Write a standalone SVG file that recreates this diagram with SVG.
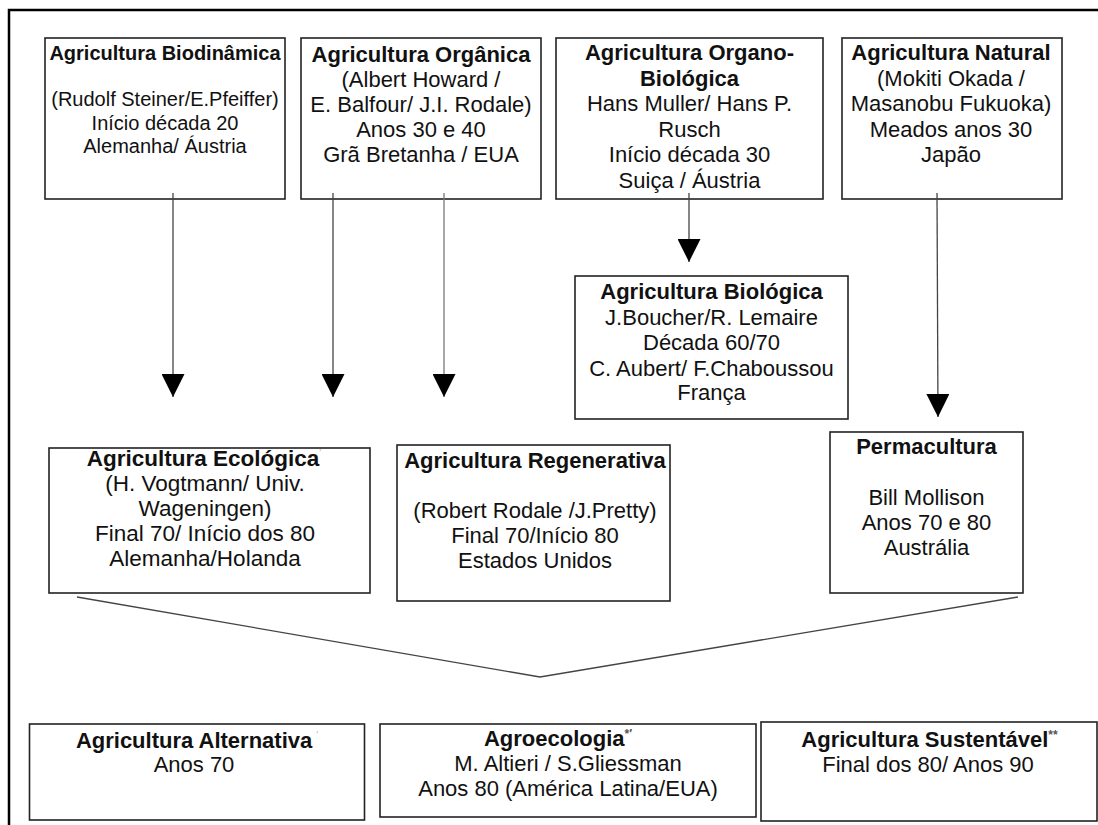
<svg xmlns="http://www.w3.org/2000/svg" width="1098" height="825" viewBox="0 0 1098 825">
<style>
text{font-family:"Liberation Sans",Arial,sans-serif;fill:#111;text-anchor:middle;font-size:22px}
.t{font-weight:bold}
.f20{font-size:20px}
.f225{font-size:22.5px}
.box{fill:#fff;stroke:#222;stroke-width:1.6}
.con{fill:none;stroke:#444;stroke-width:1.3}
.sup{font-size:12px;font-weight:bold;fill:#555}
.faint{font-size:10px;fill:#bbb}
</style>
<defs>
<marker id="ah" markerUnits="userSpaceOnUse" markerWidth="23" markerHeight="23" refX="23" refY="11.5" orient="auto" viewBox="0 0 23 23"><path d="M0,0L23,11.5L0,23z" fill="#000"/></marker>
</defs>
<rect width="1098" height="825" fill="#fff"/>
<path d="M9,825V10H1098" fill="none" stroke="#000" stroke-width="2.5"/>

<g id="n-biodinamica">
<rect class="box" x="45" y="38" width="240" height="161"/>
<text class="f20" x="165" y="60"><tspan class="t">Agricultura Biodinâmica</tspan><tspan x="165" y="106.4">(Rudolf Steiner/E.Pfeiffer)</tspan><tspan x="165" y="129.6">Início década 20</tspan><tspan x="165" y="152.8">Alemanha/ Áustria</tspan></text>
</g>
<g id="n-organica">
<rect class="box" x="301" y="38" width="240" height="161"/>
<text x="421" y="62"><tspan class="t">Agricultura Orgânica</tspan><tspan x="421" y="87">(Albert Howard /</tspan><tspan x="421" y="112">E. Balfour/ J.I. Rodale)</tspan><tspan x="421" y="137">Anos 30 e 40</tspan><tspan x="421" y="162">Grã Bretanha / EUA</tspan></text>
</g>
<g id="n-organo">
<rect class="box" x="556" y="38" width="267" height="161"/>
<text x="689.5" y="60"><tspan class="t">Agricultura Organo-</tspan><tspan class="t" x="689.5" y="85.5">Biológica</tspan><tspan x="689.5" y="111">Hans Muller/ Hans P.</tspan><tspan x="689.5" y="136.5">Rusch</tspan><tspan x="689.5" y="162">Início década 30</tspan><tspan x="689.5" y="187.5">Suiça / Áustria</tspan></text>
</g>
<g id="n-natural">
<rect class="box" x="842" y="38" width="220" height="161"/>
<text x="951" y="60"><tspan class="t">Agricultura Natural</tspan><tspan x="951" y="85.5">(Mokiti Okada /</tspan><tspan x="951" y="111">Masanobu Fukuoka)</tspan><tspan x="951" y="136.5">Meados anos 30</tspan><tspan x="951" y="162">Japão</tspan></text>
</g>
<g id="n-biologica">
<rect class="box" x="575" y="276" width="273" height="143"/>
<text x="711.5" y="299"><tspan class="t">Agricultura Biológica</tspan><tspan x="711.5" y="324.5">J.Boucher/R. Lemaire</tspan><tspan x="711.5" y="350">Década 60/70</tspan><tspan x="711.5" y="375.5">C. Aubert/ F.Chaboussou</tspan><tspan x="711.5" y="400">França</tspan></text>
</g>
<g id="n-ecologica">
<rect class="box" x="49" y="448" width="321" height="145"/>
<text class="f225" x="204" y="466"><tspan class="t">Agricultura Ecológica</tspan><tspan class="faint" dy="-9">′</tspan><tspan x="205" y="491">(H. Vogtmann/ Univ.</tspan><tspan x="205" y="516">Wageningen)</tspan><tspan x="205" y="541">Final 70/ Início dos 80</tspan><tspan x="205" y="566">Alemanha/Holanda</tspan></text>
</g>
<g id="n-regenerativa">
<rect class="box" x="397" y="445" width="273" height="156"/>
<text x="535" y="468"><tspan class="t">Agricultura Regenerativa</tspan><tspan x="535" y="518">(Robert Rodale /J.Pretty)</tspan><tspan x="535" y="543">Final 70/Início 80</tspan><tspan x="535" y="568">Estados Unidos</tspan></text>
</g>
<g id="n-permacultura">
<rect class="box" x="830" y="432" width="193" height="161"/>
<text x="926.5" y="454"><tspan class="t">Permacultura</tspan><tspan x="926.5" y="505">Bill Mollison</tspan><tspan x="926.5" y="530">Anos 70 e 80</tspan><tspan x="926.5" y="555">Austrália</tspan></text>
</g>
<g id="n-alternativa">
<rect class="box" x="29.5" y="724" width="335" height="96"/>
<text x="197" y="748"><tspan class="t">Agricultura Alternativa</tspan><tspan class="faint" dx="4" dy="-9">′</tspan><tspan x="194" y="772">Anos 70</tspan></text>
</g>
<g id="n-agroecologia">
<rect class="box" x="380" y="724" width="376" height="93"/>
<text x="558" y="746"><tspan class="t">Agroecologia</tspan><tspan class="sup" dy="-8">*′</tspan><tspan x="568" y="771">M. Altieri / S.Gliessman</tspan><tspan x="568" y="796">Anos 80 (América Latina/EUA)</tspan></text>
</g>
<g id="n-sustentavel">
<rect class="box" x="761" y="722" width="336" height="99"/>
<text x="929.5" y="747"><tspan class="t">Agricultura Sustentável</tspan><tspan class="sup" dy="-8">**</tspan><tspan x="928" y="772">Final dos 80/ Anos 90</tspan></text>
</g>

<g id="connectors">
<path class="con" d="M173,193V397" marker-end="url(#ah)"/>
<path class="con" d="M333,193V397" marker-end="url(#ah)"/>
<path class="con" d="M444,193V397" marker-end="url(#ah)" style="stroke:#777"/>
<path class="con" d="M689,193V262" marker-end="url(#ah)"/>
<path class="con" d="M937,193L938,417" marker-end="url(#ah)"/>
<path class="con" d="M77,597L540,677L1018,597"/>
</g>
</svg>
